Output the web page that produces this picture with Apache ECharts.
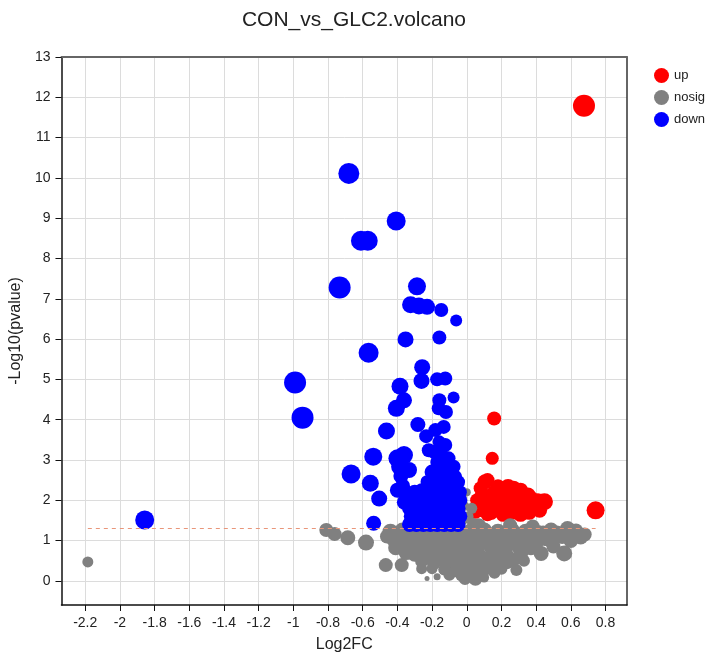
<!DOCTYPE html>
<html>
<head>
<meta charset="utf-8">
<title>CON_vs_GLC2.volcano</title>
<script src="https://cdn.jsdelivr.net/npm/echarts@6/dist/echarts.min.js"></script>
<style>
    html, body { margin: 0; padding: 0; background: #fff; }
    #volcano { width: 708px; height: 663px; }
</style>
</head>
<body>
<div id="volcano"></div>
<script>
// tick labels
var xTicks = [-2.2, -2, -1.8, -1.6, -1.4, -1.2, -1, -0.8, -0.6, -0.4, -0.2, 0, 0.2, 0.4, 0.6, 0.8];
var yTicks = [0, 1, 2, 3, 4, 5, 6, 7, 8, 9, 10, 11, 12, 13];
var pThreshold = 1.3;

// [log2FC, -log10(pvalue), point size]
var upPoints = [
    [0.676, 11.79, 22], [0.743, 1.75, 18], [0.158, 4.03, 14], [0.147, 3.04, 13],
    [0.12, 2.5, 14], [0.105, 2.46, 15], [0.238, 2.33, 16], [0.352, 2.12, 16], [0.448, 1.96, 17],
    [0.06, 2.0, 14], [0.07, 1.75, 14], [0.09, 2.15, 15], [0.1, 1.85, 15], [0.13, 2.05, 15],
    [0.14, 1.7, 15], [0.16, 2.2, 15], [0.17, 1.9, 15], [0.19, 2.1, 15], [0.2, 1.75, 15],
    [0.22, 2.25, 15], [0.23, 1.95, 15], [0.25, 2.15, 15], [0.26, 1.7, 15], [0.28, 2.0, 15],
    [0.29, 2.2, 15], [0.3, 1.8, 15], [0.32, 2.05, 15], [0.33, 1.75, 15], [0.35, 1.95, 15],
    [0.37, 2.05, 15], [0.38, 1.8, 15], [0.4, 1.9, 16], [0.42, 1.75, 15], [0.27, 2.3, 15],
    [0.21, 1.65, 15], [0.12, 1.65, 14], [0.31, 1.65, 15], [0.36, 1.7, 15], [0.05, 1.7, 13],
    [0.18, 2.35, 14], [0.31, 2.25, 15], [0.41, 2.0, 14], [0.08, 2.3, 14]
];

var nosigPoints = [
    [-2.185, 0.47, 11], [-0.81, 1.26, 14], [-0.762, 1.16, 14], [-0.686, 1.07, 15],
    [-0.581, 0.95, 16], [-0.467, 0.39, 14], [-0.375, 0.39, 14], [0.286, 0.27, 12],
    [-0.229, 0.06, 5], [-0.171, 0.1, 7], [0.486, 1.26, 15], [0.581, 1.3, 15],
    [0.657, 1.09, 15], [0.429, 0.68, 15], [0.562, 0.68, 16], [0.39, 0.97, 14],
    [0.45, 1.05, 15], [0.6, 1.0, 15], [0.52, 1.2, 14], [0.63, 1.25, 14],
    [0.5, 0.85, 14], [0.55, 1.1, 15], [0.68, 1.15, 14], [0.48, 1.0, 14], [0.44, 1.2, 14],
    [-0.03, 2.08, 10], [0.029, 1.8, 11], [0.01, 1.6, 10], [-0.02, 1.5, 9],
    [0.03, 1.45, 10], [-0.01, 1.85, 9], [0.0, 2.2, 8],
    [-0.33, 1.35, 13], [-0.16, 1.35, 13], [0.07, 1.38, 14], [0.25, 1.38, 14], [0.38, 1.35, 14],
    [-0.46, 1.1, 14], [-0.38, 0.95, 16], [-0.35, 0.7, 15],
    [-0.44, 1.22, 16], [-0.37, 1.25, 16], [-0.3, 1.2, 16], [-0.22, 1.25, 16], [-0.14, 1.22, 16],
    [-0.06, 1.26, 16], [0.02, 1.22, 16], [0.1, 1.25, 16], [0.18, 1.22, 16], [0.26, 1.25, 16],
    [0.34, 1.22, 16], [0.41, 1.2, 15],
    [-0.42, 1.02, 15], [-0.34, 1.05, 16], [-0.27, 1.0, 16], [-0.2, 1.06, 16], [-0.12, 1.02, 16],
    [-0.04, 1.05, 16], [0.04, 1.02, 16], [0.12, 1.06, 16], [0.2, 1.0, 16], [0.28, 1.05, 16],
    [0.36, 1.02, 16],
    [-0.41, 0.82, 15], [-0.32, 0.86, 16], [-0.25, 0.84, 16], [-0.17, 0.88, 16], [-0.09, 0.83, 16],
    [-0.02, 0.86, 16], [0.06, 0.84, 16], [0.14, 0.87, 16], [0.22, 0.83, 16], [0.3, 0.86, 16],
    [0.37, 0.82, 15], [0.4, 0.9, 14],
    [-0.3, 0.66, 15], [-0.23, 0.62, 16], [-0.15, 0.66, 16], [-0.08, 0.63, 16], [0.0, 0.66, 16],
    [0.07, 0.62, 16], [0.15, 0.66, 16], [0.23, 0.63, 15], [0.31, 0.66, 15],
    [-0.26, 0.48, 13], [-0.19, 0.44, 14], [-0.12, 0.46, 15], [-0.05, 0.43, 16], [0.02, 0.46, 16],
    [0.09, 0.43, 15], [0.16, 0.46, 15], [0.23, 0.46, 14], [0.27, 0.5, 13], [0.33, 0.5, 12],
    [-0.26, 0.3, 11], [-0.2, 0.3, 11], [-0.13, 0.28, 12], [-0.06, 0.26, 14], [0.01, 0.29, 15],
    [0.07, 0.27, 14], [0.13, 0.3, 12], [0.2, 0.3, 12], [0.16, 0.2, 12],
    [-0.1, 0.15, 12], [-0.03, 0.15, 13], [0.03, 0.14, 14], [0.09, 0.16, 12],
    [-0.01, 0.06, 13], [0.05, 0.05, 14], [0.1, 0.08, 10]
];

var downPoints = [
    [-0.68, 10.11, 21], [-0.407, 8.93, 19], [-0.61, 8.44, 20], [-0.571, 8.44, 20],
    [-0.733, 7.28, 22], [-0.287, 7.31, 18], [-0.324, 6.85, 17], [-0.276, 6.82, 17],
    [-0.229, 6.8, 16], [-0.147, 6.72, 14], [-0.061, 6.46, 12], [-0.353, 5.99, 16],
    [-0.158, 6.04, 14], [-0.566, 5.66, 20], [-0.257, 5.3, 16], [-0.261, 4.96, 16],
    [-0.171, 5.0, 14], [-0.124, 5.02, 14], [-0.385, 4.83, 17], [-0.362, 4.48, 16],
    [-0.406, 4.28, 17], [-0.076, 4.55, 12], [-0.158, 4.48, 14], [-0.162, 4.28, 14],
    [-0.12, 4.19, 14], [-0.99, 4.92, 22], [-0.947, 4.05, 22], [-0.463, 3.72, 17],
    [-0.282, 3.88, 15], [-0.133, 3.82, 14], [-0.234, 3.59, 14], [-0.181, 3.74, 14],
    [-0.124, 3.37, 14], [-0.539, 3.08, 18], [-0.667, 2.65, 19], [-0.556, 2.42, 17],
    [-0.505, 2.04, 16], [-0.537, 1.43, 15], [-0.4, 3.04, 18], [-0.362, 3.12, 18],
    [-0.39, 2.83, 16], [-0.333, 2.75, 16], [-0.4, 2.25, 15], [-0.353, 2.13, 15],
    [-0.229, 2.46, 13], [-0.219, 3.24, 14], [-0.105, 3.04, 14], [-0.076, 2.83, 14],
    [-0.067, 2.58, 14], [-0.086, 2.33, 14], [-1.857, 1.51, 19],
    [-0.37, 2.35, 15], [-0.36, 1.95, 15], [-0.38, 2.6, 15],
    [-0.33, 1.4, 15], [-0.29, 1.4, 15], [-0.25, 1.4, 15], [-0.21, 1.4, 15], [-0.17, 1.4, 15],
    [-0.13, 1.4, 15], [-0.09, 1.4, 15], [-0.05, 1.4, 15],
    [-0.32, 1.6, 15], [-0.28, 1.6, 15], [-0.24, 1.6, 15], [-0.2, 1.6, 15], [-0.16, 1.6, 15],
    [-0.12, 1.6, 15], [-0.08, 1.6, 15], [-0.04, 1.6, 15],
    [-0.33, 1.8, 15], [-0.29, 1.8, 15], [-0.25, 1.8, 15], [-0.21, 1.8, 15], [-0.17, 1.8, 15],
    [-0.13, 1.8, 15], [-0.09, 1.8, 15], [-0.05, 1.8, 15],
    [-0.31, 2.0, 15], [-0.27, 2.0, 15], [-0.23, 2.0, 15], [-0.19, 2.0, 15], [-0.15, 2.0, 15],
    [-0.11, 2.0, 15], [-0.07, 2.0, 15], [-0.04, 2.0, 15],
    [-0.3, 2.2, 15], [-0.26, 2.25, 14], [-0.19, 2.2, 15], [-0.15, 2.2, 15], [-0.11, 2.2, 15],
    [-0.07, 2.2, 15], [-0.04, 2.2, 14],
    [-0.18, 2.45, 15], [-0.14, 2.45, 15], [-0.1, 2.45, 15], [-0.05, 2.45, 14],
    [-0.2, 2.7, 15], [-0.16, 2.7, 15], [-0.12, 2.7, 15],
    [-0.17, 2.95, 14], [-0.13, 2.95, 14], [-0.19, 3.2, 14], [-0.15, 3.2, 14], [-0.16, 3.45, 13]
];

var fontFamily = "'Liberation Sans', Arial, sans-serif";

var chart = echarts.init(document.getElementById('volcano'));

function symbolSize(d) {
    return d[2];
}

var option = {
    animation: false,
    title: {
        text: 'CON_vs_GLC2.volcano',
        left: 'center',
        top: 5,
        textStyle: {
            fontFamily: fontFamily,
            fontWeight: 'normal',
            fontSize: 21,
            color: '#222'
        }
    },
    legend: {
        orient: 'vertical',
        left: 649,
        top: 63,
        icon: 'circle',
        itemWidth: 15,
        itemHeight: 15,
        itemGap: 7,
        textStyle: { fontFamily: fontFamily, fontSize: 13, color: '#222' },
        data: ['up', 'nosig', 'down']
    },
    grid: { left: 56, right: 81, top: 57, bottom: 58 },
    xAxis: [{
        type: 'value',
        min: -2.337,
        max: 0.924,
        splitNumber: 16,
        minInterval: 0.2,
        maxInterval: 0.2,
        name: 'Log2FC',
        nameLocation: 'middle',
        nameGap: 32,
        nameTextStyle: { fontFamily: fontFamily, fontSize: 16, color: '#222' },
        axisLine: { show: true, onZero: false, lineStyle: { color: '#111', width: 1.5 } },
        axisTick: { show: true, length: 6, customValues: xTicks, lineStyle: { color: '#111' } },
        axisLabel: {
            customValues: xTicks,
            margin: 11,
            fontFamily: fontFamily,
            fontSize: 14,
            color: '#222'
        },
        splitLine: { show: true, lineStyle: { color: '#dcdcdc', width: 1 } }
    }, {
        type: 'value',
        position: 'top',
        min: 0,
        max: 1,
        axisLine: { show: true, onZero: false, lineStyle: { color: '#666', width: 2 } },
        axisTick: { show: false },
        axisLabel: { show: false },
        splitLine: { show: false }
    }],
    yAxis: [{
        type: 'value',
        min: -0.6,
        max: 13,
        splitNumber: 14,
        minInterval: 1,
        maxInterval: 1,
        name: '-Log10(pvalue)',
        nameLocation: 'middle',
        nameGap: 36,
        nameTextStyle: { fontFamily: fontFamily, fontSize: 16, color: '#222' },
        axisLine: { show: true, onZero: false, lineStyle: { color: '#111', width: 1.5 } },
        axisTick: { show: true, length: 6, customValues: yTicks, lineStyle: { color: '#111' } },
        axisLabel: {
            customValues: yTicks,
            margin: 11,
            fontFamily: fontFamily,
            fontSize: 14,
            color: '#222'
        },
        splitLine: { show: true, lineStyle: { color: '#dcdcdc', width: 1 } }
    }, {
        type: 'value',
        position: 'right',
        min: 0,
        max: 1,
        axisLine: { show: true, onZero: false, lineStyle: { color: '#333', width: 1.5 } },
        axisTick: { show: false },
        axisLabel: { show: false },
        splitLine: { show: false }
    }],
    series: [
        {
            name: 'up',
            type: 'scatter',
            data: upPoints,
            symbolSize: symbolSize,
            itemStyle: { color: '#ff0000', opacity: 1 }
        },
        {
            name: 'nosig',
            type: 'scatter',
            data: nosigPoints,
            symbolSize: symbolSize,
            itemStyle: { color: '#808080', opacity: 1 }
        },
        {
            name: 'down',
            type: 'scatter',
            data: downPoints,
            symbolSize: symbolSize,
            itemStyle: { color: '#0000ff', opacity: 1 },
            markLine: {
                silent: true,
                symbol: 'none',
                label: { show: false },
                lineStyle: { color: '#e9967a', type: [4, 4], width: 1 },
                data: [[
                    { coord: [-2.185, pThreshold] },
                    { coord: [0.743, pThreshold] }
                ]]
            }
        }
    ]
};

chart.setOption(option);
window.addEventListener('resize', function () {
    chart.resize();
});
</script>
</body>
</html>
